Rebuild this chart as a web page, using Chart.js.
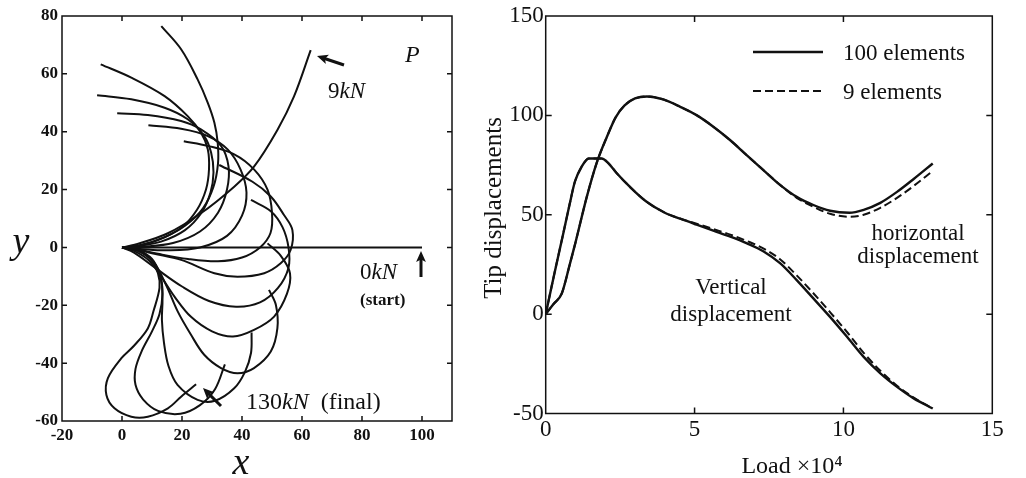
<!DOCTYPE html>
<html><head><meta charset="utf-8">
<script src="https://cdn.jsdelivr.net/npm/chart.js@4/dist/chart.umd.min.js"></script>
<style>
html,body{margin:0;padding:0;background:#fff;}
#wrap{position:relative;width:1026px;height:478px;overflow:hidden;background:#fff;}
.box{position:absolute;top:0;height:478px;}
</style></head><body>
<div id="wrap">
<div class="box" style="left:0;width:470px"><canvas id="c1"></canvas></div>
<div class="box" style="left:470px;width:556px"><canvas id="c2"></canvas></div>
</div>
<script>
// ---------- Left panel: deformed beam shapes (x, y pairs, origin -> tip) ----------
const shape0   = [[0,0],[100,0]];
const shape9   = [[0,0],[4.2,0.9],[15.3,4.9],[26.3,11.8],[37.4,21],[44,27.9],[51.8,40.6],[57.3,52.1],[62.9,68.2]];
const shape15  = [[0,0],[6,0.8],[14,3.5],[21,7.5],[27,13.5],[30.5,21],[32,29],[31.9,36.2],[30.8,43.1],[28.6,50],[25.2,58.1],[19.7,68.5],[13.1,76.5]];
const shape26  = [[0,0],[5,0.5],[12,2.5],[20,7],[25,13],[28,20],[29,27],[28.6,33.9],[26.3,39.7],[21.9,45.4],[14.2,52.3],[3.1,58.7],[-7.1,63.3]];
const shape35  = [[0,0],[5,0.4],[13,2],[21,6],[26.5,12],[29.5,19],[30.5,26],[29.7,32.8],[27.4,38.5],[21.9,44.3],[14.2,48.3],[3.1,51.2],[-8.3,52.6]];
const shape46  = [[0,0],[7,0.2],[17,1.5],[26,5.5],[32,12],[35,20],[35.5,28],[33,35.1],[26.3,40.8],[19.7,43.7],[8.6,45.8],[-1.6,46.4]];
const shape55  = [[0,0],[6,-0.5],[15,-1],[26,0],[35,4],[40,11],[41.5,19],[39.5,27],[35.2,33.9],[28.6,38.5],[19.7,41],[8.8,42.2]];
const shape66  = [[0,0],[5,-0.6],[12,-2.2],[22,-4],[32,-4.8],[40,-3.5],[46,0],[49.5,5],[50,12],[48.5,20],[44,27],[37.4,32.2],[28.6,35.1],[20.6,36.7]];
const shape76  = [[0,0],[4,-0.4],[10,-2],[19.7,-4.3],[30.8,-8.9],[38.5,-10.1],[47.4,-8.9],[52.9,-5.5],[56.2,-0.9],[56.8,6],[54,11.2],[49.6,17.6],[43.5,22.7],[32.4,28.5]];
const shape84  = [[0,0],[4,-1.8],[11,-7],[20,-13.5],[29,-18.5],[38,-20.5],[46,-19],[52,-14],[55.5,-7],[55.5,0],[53.5,7],[49.6,12.5],[43,16.4]];
const shape93  = [[0,0],[4,-1.2],[9,-4.5],[13,-10],[17.5,-17],[23,-24],[30,-29],[37,-30.8],[44,-28.5],[50.7,-23.9],[55,-16],[56,-9],[53,-3],[48.5,1.4]];
const shape102 = [[0,0],[5,-1],[10.5,-5],[14.7,-13],[18.6,-22.2],[23,-30.2],[27.4,-37.1],[33,-41.7],[38.5,-43.5],[44,-41.7],[49.6,-36],[51.8,-27.9],[51.3,-19.9],[49,-14.7]];
const shape112 = [[0,0],[5,-1],[10,-4.5],[13,-11],[13.5,-18],[13.3,-25],[14,-33],[15.5,-41],[18.5,-47.5],[25.2,-52.7],[31,-53],[37.4,-48.7],[41,-43],[43,-36.5],[43.2,-29.4]];
const shape122 = [[0,0],[5,-0.8],[10,-4],[12.8,-10],[13.5,-16],[12.5,-23],[10,-29],[6.5,-36],[4.5,-42],[4.5,-47.5],[7,-52.5],[12,-56.5],[19.5,-57.5],[26,-54.5],[31,-49],[34.3,-40.4]];
const shape130 = [[0,0],[5,-0.8],[9.5,-4],[12,-9],[12.5,-14],[10.5,-22],[8.6,-28],[4,-34],[-0.2,-38.3],[-4.7,-45.2],[-5.2,-51],[-2.5,-55.6],[3.1,-58.5],[8.6,-58.5],[15.3,-55.6],[19.7,-51.6],[24.7,-47.3]];
const beamShapes = [shape0,shape9,shape15,shape26,shape35,shape46,shape55,shape66,shape76,shape84,shape93,shape102,shape112,shape122,shape130];
const leftXTicks = [-20,0,20,40,60,80,100];
const leftYTicks = [-60,-40,-20,0,20,40,60,80];

// ---------- Right panel: tip displacements vs load (x 10^4) ----------
const loadH    = [0,0.27,0.54,0.8,1.0,1.38,1.71,2.05,2.35,2.65,3.0,3.4,3.95,4.52,5.08,5.63,6.19,6.75,7.31,7.88,8.43,8.99,9.55,10.2,10.68,11.24,11.8,12.36,13];
const horiz100 = [0,5.2,10.4,24.5,36,59,76,89,99,105,108.5,109.5,108,104.3,100,94.3,87.6,80,72.5,64.9,59,54.9,52,51,52.5,56,61.5,68,75.8];
const horiz9   = [0,5.2,10.4,24.5,36,59,76,89,99,105,108.5,109.5,108,104.3,100,94.3,87.6,80,72.5,64.9,58.5,54,50.5,49,50,53.5,58.5,64.5,72];
const loadV    = [0,0.3,0.59,0.8,0.98,1.2,1.45,1.88,2.1,2.38,2.83,3.39,4.0,4.52,5.07,5.63,6.2,6.76,7.32,7.88,8.43,8.99,9.55,10.12,10.68,11.24,11.8,12.36,13];
const vert100  = [0,21,40.6,55,66.6,74,78.3,78.3,76,71,64,56.5,51,48,45,42,39,35.6,31.5,25.5,17.1,7.9,-1.4,-11.4,-21.5,-29.8,-36.6,-42.4,-47.5];
const vert9    = [0,21,40.6,55,66.6,74,78.3,78.3,76,71,64,56.5,51,48,45.5,42.8,40,36.8,33,27.5,19.5,10.5,1,-9,-19.5,-28.5,-36,-42,-47.5];
const seriesNames = ['100 elements','9 elements'];
const rightXTicks = [0,5,10,15];
const rightYTicks = [-50,0,50,100,150];

const SERIF = "'Liberation Serif','Times New Roman',serif";
const INK = '#111';

// ---------- plugins ----------
const boxTicks = {
  id:'boxTicks',
  afterDatasetsDraw(chart, args, o){
    const {ctx, chartArea:a, scales} = chart;
    ctx.save();
    ctx.strokeStyle = INK; ctx.lineWidth = o.lw; ctx.lineCap='butt';
    ctx.strokeRect(a.left, a.top, a.right-a.left, a.bottom-a.top);
    const L = o.len;
    ctx.beginPath();
    scales.x.ticks.forEach(t=>{
      const p = scales.x.getPixelForValue(t.value);
      if (p <= a.left+1 || p >= a.right-1) return;
      ctx.moveTo(p,a.bottom); ctx.lineTo(p,a.bottom-L);
      ctx.moveTo(p,a.top); ctx.lineTo(p,a.top+L);
    });
    scales.y.ticks.forEach(t=>{
      const p = scales.y.getPixelForValue(t.value);
      if (p <= a.top+1 || p >= a.bottom-1) return;
      ctx.moveTo(a.left,p); ctx.lineTo(a.left+L,p);
      ctx.moveTo(a.right,p); ctx.lineTo(a.right-L,p);
    });
    ctx.stroke();
    ctx.restore();
  }
};

function drawParts(ctx, parts, x, y, size, align){
  const fonts = parts.map(p => `${p.s||''} ${size}px ${SERIF}`);
  let w = 0;
  parts.forEach((p,i)=>{ ctx.font = fonts[i]; w += ctx.measureText(p.t).width; });
  let cx = align==='center' ? x - w/2 : x;
  parts.forEach((p,i)=>{ ctx.font = fonts[i]; ctx.fillText(p.t, cx, y); cx += ctx.measureText(p.t).width; });
}

function arrow(ctx, x1,y1,x2,y2, head, lw){
  const ang = Math.atan2(y2-y1, x2-x1);
  ctx.lineWidth = lw;
  ctx.beginPath(); ctx.moveTo(x1,y1);
  ctx.lineTo(x2 - Math.cos(ang)*head*0.6, y2 - Math.sin(ang)*head*0.6); ctx.stroke();
  ctx.beginPath();
  ctx.moveTo(x2,y2);
  ctx.lineTo(x2 - head*Math.cos(ang-0.42), y2 - head*Math.sin(ang-0.42));
  ctx.lineTo(x2 - head*0.7*Math.cos(ang), y2 - head*0.7*Math.sin(ang));
  ctx.lineTo(x2 - head*Math.cos(ang+0.42), y2 - head*Math.sin(ang+0.42));
  ctx.closePath(); ctx.fill();
}

const notes = {
  id:'notes',
  afterDraw(chart, args, o){
    const ctx = chart.ctx;
    ctx.save();
    ctx.fillStyle = INK; ctx.strokeStyle = INK; ctx.textBaseline = 'alphabetic';
    (o.texts||[]).forEach(t=>{
      ctx.save();
      if (t.rot){ ctx.translate(t.x,t.y); ctx.rotate(t.rot); ctx.textBaseline='middle'; drawParts(ctx,t.parts,0,0,t.size,t.align); }
      else drawParts(ctx,t.parts,t.x,t.y,t.size,t.align);
      ctx.restore();
    });
    (o.arrows||[]).forEach(a=> arrow(ctx,a[0],a[1],a[2],a[3],a[4],a[5]));
    if (o.legend){
      const L = o.legend;
      L.rows.forEach((r,i)=>{
        const ds = chart.data.datasets[r.ds];
        ctx.save();
        ctx.lineWidth = ds.borderWidth; ctx.strokeStyle = ds.borderColor;
        ctx.setLineDash(ds.borderDash||[]);
        ctx.beginPath(); ctx.moveTo(L.x1, r.y); ctx.lineTo(L.x2, r.y); ctx.stroke();
        ctx.restore();
        drawParts(ctx,[{t:seriesNames[i]}],L.tx, r.y+8, L.size,'left');
      });
    }
    ctx.restore();
  }
};

function fixedTicks(list){
  return function(s){ s.ticks = list.map(v=>({value:v})); };
}

// ---------- left chart ----------
const leftSets = beamShapes.map(sh => ({
  data: sh.map(p => ({x:p[0], y:p[1]})),
  showLine:true, borderColor:INK, borderWidth:2, pointRadius:0, tension:0.35, fill:false
}));

new Chart(document.getElementById('c1'), {
  type:'scatter',
  data:{datasets:leftSets},
  options:{
    responsive:true, maintainAspectRatio:false, animation:false,
    layout:{padding:{top:16,right:18,left:0,bottom:0}},
    scales:{
      x:{type:'linear',min:-20,max:110,
         afterBuildTicks:fixedTicks(leftXTicks),
         afterFit(s){s.height=57;},
         ticks:{font:{family:SERIF,size:17,weight:'bold'},color:INK,padding:4,maxRotation:0},
         grid:{display:false,drawTicks:false},border:{display:false}},
      y:{type:'linear',min:-60,max:80,
         afterBuildTicks:fixedTicks(leftYTicks),
         afterFit(s){s.width=62;},
         ticks:{font:{family:SERIF,size:17,weight:'bold'},color:INK,padding:4},
         grid:{display:false,drawTicks:false},border:{display:false}}
    },
    plugins:{
      legend:{display:false}, tooltip:{enabled:false},
      boxTicks:{lw:1.5,len:5},
      notes:{
        texts:[
          {parts:[{t:'y',s:'italic'}], x:21, y:253, size:38, align:'center'},
          {parts:[{t:'x',s:'italic'}], x:241, y:474, size:38, align:'center'},
          {parts:[{t:'P',s:'italic'}], x:405, y:62, size:24, align:'left'},
          {parts:[{t:'9'},{t:'kN',s:'italic'}], x:328, y:98, size:23, align:'left'},
          {parts:[{t:'0'},{t:'kN',s:'italic'}], x:360, y:279, size:23, align:'left'},
          {parts:[{t:'(start)',s:'bold'}], x:360, y:305, size:17, align:'left'},
          {parts:[{t:'130'},{t:'kN',s:'italic'},{t:'  (final)'}], x:246, y:409, size:24, align:'left'}
        ],
        arrows:[
          [344,65,317,56,12,3],
          [421,277,421,251,12,3],
          [221,406,203,388,12,3]
        ]
      }
    }
  },
  plugins:[boxTicks,notes]
});

// ---------- right chart ----------
const mk = (xs, ys, dash) => ({
  data: xs.map((x,i)=>({x, y:ys[i]})),
  showLine:true, borderColor:INK, borderWidth: dash?2:2.4, borderDash: dash?[8,4]:[],
  pointRadius:0, cubicInterpolationMode:'monotone', fill:false
});

new Chart(document.getElementById('c2'), {
  type:'scatter',
  data:{datasets:[ mk(loadH,horiz100,false), mk(loadV,vert100,false), mk(loadH,horiz9,true), mk(loadV,vert9,true) ]},
  options:{
    responsive:true, maintainAspectRatio:false, animation:false,
    layout:{padding:{top:16,right:33.7,left:0,bottom:0}},
    scales:{
      x:{type:'linear',min:0,max:15,
         afterBuildTicks:fixedTicks(rightXTicks),
         afterFit(s){s.height=64.5;},
         ticks:{font:{family:SERIF,size:23},color:INK,padding:3,maxRotation:0},
         grid:{display:false,drawTicks:false},border:{display:false}},
      y:{type:'linear',min:-50,max:150,
         afterBuildTicks:fixedTicks(rightYTicks),
         afterFit(s){s.width=75.7;},
         ticks:{font:{family:SERIF,size:23},color:INK,padding:2},
         grid:{display:false,drawTicks:false},border:{display:false}}
    },
    plugins:{
      legend:{display:false}, tooltip:{enabled:false},
      boxTicks:{lw:1.5,len:6},
      notes:{
        texts:[
          {parts:[{t:'Tip displacements'}], x:24, y:208, size:25, align:'center', rot:-Math.PI/2},
          {parts:[{t:'Load ×10⁴'}], x:322, y:473, size:24, align:'center'},
          {parts:[{t:'horizontal'}], x:448, y:240, size:23, align:'center'},
          {parts:[{t:'displacement'}], x:448, y:263, size:23, align:'center'},
          {parts:[{t:'Vertical'}], x:261, y:294, size:23, align:'center'},
          {parts:[{t:'displacement'}], x:261, y:321, size:23, align:'center'}
        ],
        legend:{x1:283,x2:353,tx:373,size:23,rows:[{ds:0,y:52},{ds:2,y:91}]}
      }
    }
  },
  plugins:[boxTicks,notes]
});
</script>
</body></html>
